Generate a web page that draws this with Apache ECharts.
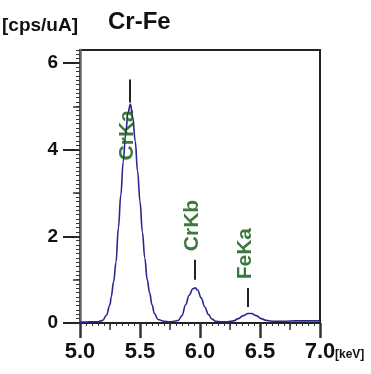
<!DOCTYPE html>
<html>
<head>
<meta charset="utf-8">
<script src="https://cdn.jsdelivr.net/npm/echarts@6/dist/echarts.min.js"></script>
<style>
  html, body { margin: 0; padding: 0; background: #fff; }
  #main { width: 371px; height: 374px; }
</style>
</head>
<body>
<div id="main"></div>
<script>
// 能量 (keV)
var energy = [5.00, 5.05, 5.10, 5.15, 5.19, 5.22, 5.25, 5.26, 5.28, 5.30, 5.32, 5.34, 5.36, 5.38, 5.40,
	5.42, 5.44, 5.46, 5.48, 5.50, 5.52, 5.54, 5.56, 5.58, 5.60, 5.62, 5.65, 5.70, 5.75, 5.79, 5.82,
	5.85, 5.88, 5.91, 5.94, 5.96, 5.98, 6.01, 6.04, 6.07, 6.10, 6.13, 6.18, 6.23, 6.28, 6.32, 6.36,
	6.40, 6.43, 6.47, 6.51, 6.55, 6.60, 6.70, 6.80, 6.90, 7.00];
// 强度 (cps/uA)
var counts = [0.02, 0.02, 0.03, 0.03, 0.06, 0.18, 0.42, 0.60, 0.95, 1.40, 2.20, 2.95, 3.72, 4.35, 4.85,
	5.05, 4.75, 4.20, 3.50, 2.80, 2.10, 1.50, 1.00, 0.70, 0.42, 0.22, 0.08, 0.04, 0.03, 0.04, 0.06,
	0.17, 0.42, 0.64, 0.79, 0.81, 0.76, 0.58, 0.37, 0.20, 0.09, 0.04, 0.03, 0.03, 0.05, 0.10, 0.17,
	0.22, 0.22, 0.17, 0.10, 0.06, 0.04, 0.04, 0.05, 0.05, 0.05];

// 峰标注
var peakNames = ['CrKa', 'CrKb', 'FeKa'];
var peakEnergy = [5.417, 5.958, 6.40];
var labelY = [4.33, 2.25, 1.60];
var labelX = [5.39, 5.933, 6.375];
var markFrom = [5.09, 1.00, 0.37];
var markTo = [5.62, 1.46, 0.81];

var xMajor = [5.0, 5.5, 6.0, 6.5, 7.0];
var yMajor = [0, 2, 4, 6];

var FONT = "'Liberation Sans', Arial, sans-serif";

var lineData = [];
for (var i = 0; i < energy.length; i++) {
	lineData.push([energy[i], counts[i]]);
}
var labelData = [];
var markData = [];
for (var k = 0; k < peakNames.length; k++) {
	labelData.push({ name: peakNames[k], value: [labelX[k], labelY[k]] });
	markData.push([
		{ coord: [peakEnergy[k], markFrom[k]] },
		{ coord: [peakEnergy[k], markTo[k]] }
	]);
}

// 小刻度
var xMinor = [];
for (var i = 0; i <= 40; i++) xMinor.push(+(5 + i * 0.05).toFixed(2));
var yMinor = [];
for (var i = 0; i <= 63; i++) yMinor.push(+(i * 0.1).toFixed(1));

var myChart = echarts.init(document.getElementById('main'));

var xBase = {
	type: 'value', min: 5, max: 7, interval: 0.5, position: 'bottom', gridIndex: 0,
	splitLine: { show: false }, axisLine: { show: false }, axisLabel: { show: false }
};
var yBase = {
	type: 'value', min: 0, max: 6.3, interval: 1, position: 'left', gridIndex: 0,
	splitLine: { show: false }, axisLine: { show: false }, axisLabel: { show: false }
};

var option = {
	animation: false,
	title: [
		{ text: '[cps/uA]', left: 2, top: 16, padding: 0, textStyle: { fontFamily: FONT, fontSize: 19, fontWeight: 'bold', color: '#111' } },
		{ text: 'Cr-Fe', left: 108, top: 10, padding: 0, textStyle: { fontFamily: FONT, fontSize: 24, fontWeight: 'bold', color: '#111' } },
		{ text: '[keV]', left: 335, top: 349, padding: 0, textStyle: { fontFamily: FONT, fontSize: 12, fontWeight: 'bold', color: '#111' } }
	],
	grid: {
		left: 80, right: 51, top: 50, bottom: 51,
		show: true, borderColor: '#222', borderWidth: 2, backgroundColor: 'transparent',
		outerBoundsMode: 'none'
	},
	xAxis: [
		Object.assign({}, xBase, {
			axisLine: { show: true, onZero: false, lineStyle: { color: '#222', width: 2 } },
			axisTick: { show: true, length: 15, customValues: xMajor, lineStyle: { color: '#333', width: 2.5 } },
			axisLabel: {
				show: true, customValues: xMajor, margin: 18,
				formatter: function (v) { return v.toFixed(1); },
				fontFamily: FONT, fontSize: 22, fontWeight: 'bold', color: '#111'
			}
		}),
		Object.assign({}, xBase, {
			axisTick: { show: true, length: 7, customValues: [5.25, 5.75, 6.25, 6.75], lineStyle: { color: '#333', width: 1.5 } }
		}),
		Object.assign({}, xBase, {
			axisTick: { show: true, length: 3, customValues: xMinor, lineStyle: { color: '#333', width: 1 } }
		})
	],
	yAxis: [
		Object.assign({}, yBase, {
			interval: 2,
			axisLine: { show: true, onZero: false, lineStyle: { color: '#666', width: 2.5 } },
			axisTick: { show: true, length: 17, customValues: yMajor, lineStyle: { color: '#222', width: 2 } },
			axisLabel: {
				show: true, customValues: yMajor, margin: 22,
				fontFamily: FONT, fontSize: 19, fontWeight: 'bold', color: '#111'
			}
		}),
		Object.assign({}, yBase, {
			axisTick: { show: true, length: 7, customValues: [1, 3, 5], lineStyle: { color: '#333', width: 1.5 } }
		}),
		Object.assign({}, yBase, {
			axisTick: { show: true, length: 4, customValues: yMinor, lineStyle: { color: '#333', width: 1 } }
		})
	],
	series: [
		{
			type: 'line',
			xAxisIndex: 0, yAxisIndex: 0,
			data: lineData,
			smooth: 0.4,
			smoothMonotone: 'x',
			showSymbol: false,
			lineStyle: { color: '#27278f', width: 1.6 },
			z: 2
		},
		{
			type: 'scatter',
			xAxisIndex: 0, yAxisIndex: 0,
			data: labelData,
			symbolSize: 1,
			itemStyle: { color: 'transparent' },
			label: {
				show: true,
				position: 'inside',
				rotate: 90,
				formatter: '{b}',
				fontFamily: FONT, fontSize: 21, fontWeight: 'bold', color: '#0e550e'
			},
			markLine: {
				silent: true,
				symbol: 'none',
				label: { show: false },
				lineStyle: { color: '#222', width: 2, type: 'solid' },
				data: markData
			},
			z: 3
		}
	]
};
myChart.setOption(option);
</script>
</body>
</html>
